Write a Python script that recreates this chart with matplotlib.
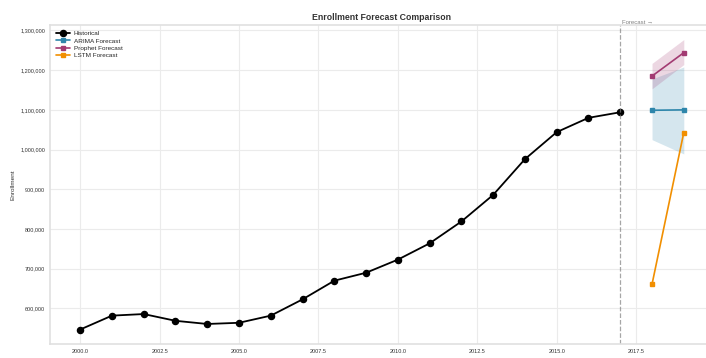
import matplotlib
matplotlib.use("Agg")
import matplotlib.pyplot as plt
from matplotlib.ticker import FuncFormatter

years = [2000, 2001, 2002, 2003, 2004, 2005, 2006, 2007, 2008, 2009,
         2010, 2011, 2012, 2013, 2014, 2015, 2016, 2017]
enrollment = [547000, 582000, 586000, 569000, 561000, 564000, 582000, 623000,
              670000, 690000, 723000, 764000, 819000, 886000, 976000, 1044000,
              1080000, 1094000]

fc_years = [2018, 2019]
arima = [1099000, 1100000]
arima_lo = [1025000, 989000]
arima_hi = [1178000, 1208000]
prophet = [1185000, 1244000]
prophet_lo = [1153000, 1214000]
prophet_hi = [1217000, 1277000]
lstm = [661000, 1043000]

c_arima = "#2E86AB"
c_prophet = "#A23B72"
c_lstm = "#F18F01"

plt.style.use("seaborn-v0_8-whitegrid")
plt.rcParams['font.family'] = ['Liberation Sans', 'DejaVu Sans']

fig = plt.figure(figsize=(7.06, 3.58), dpi=100)
ax = fig.add_axes([0.0708, 0.039, 0.9405, 0.891])

ax.plot(years, enrollment, color="black", marker="o", markersize=4.4,
        linewidth=1.3, label="Historical")
ax.plot(fc_years, arima, color=c_arima, marker="s", markersize=2.8,
        linewidth=1.2, label="ARIMA Forecast")
ax.fill_between(fc_years, arima_lo, arima_hi, color=c_arima, alpha=0.2, linewidth=0)
ax.plot(fc_years, prophet, color=c_prophet, marker="s", markersize=2.8,
        linewidth=1.2, label="Prophet Forecast")
ax.fill_between(fc_years, prophet_lo, prophet_hi, color=c_prophet, alpha=0.2, linewidth=0)
ax.plot(fc_years, lstm, color=c_lstm, marker="s", markersize=2.8,
        linewidth=1.2, label="LSTM Forecast")

ax.axvline(years[-1], color="gray", linestyle="--", linewidth=0.9, alpha=0.7)

ax.yaxis.set_major_formatter(FuncFormatter(lambda v, p: f"{int(v):,}"))
ax.tick_params(axis="both", labelsize=4.0, colors="#333333", length=0, pad=3.6)
ax.grid(True, color="#ebebeb", linewidth=0.8)
for s in ax.spines.values():
    s.set_color("#e0e0e0")
    s.set_linewidth(1.2)

ax.set_xlabel("Year", fontsize=4.6, color="#333333", labelpad=3)
ax.set_ylabel("Enrollment", fontsize=4.6, color="#333333", labelpad=3.6)
ax.set_title("Enrollment Forecast Comparison", fontsize=6.3, fontweight="bold",
             color="#333333", pad=4)

ylo, yhi = ax.get_ylim()
ax.text(years[-1] + 0.05, yhi, "Forecast →", fontsize=4.3, color="gray",
        va="bottom", ha="left")

ax.legend(loc="upper left", fontsize=4.6, frameon=False, handlelength=2.2,
          handletextpad=0.6, labelspacing=0.3)

fig.savefig("out.png", dpi=100)
